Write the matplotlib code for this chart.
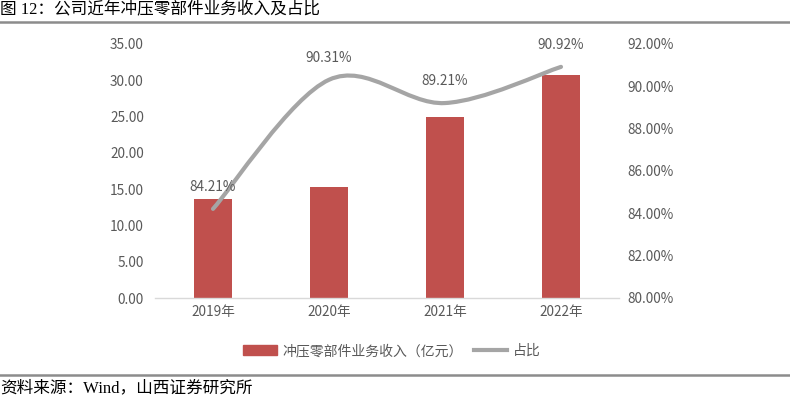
import matplotlib
matplotlib.use("Agg")
import matplotlib.pyplot as plt
from matplotlib.path import Path
from matplotlib.patches import PathPatch, Patch
from matplotlib.lines import Line2D
from matplotlib.ticker import FuncFormatter

plt.rcParams['font.family'] = ['Noto Sans CJK SC', 'DejaVu Sans']

# data
years = ["2019年", "2020年", "2021年", "2022年"]
revenue = [13.64, 15.30, 24.90, 30.77]   # 亿元
share = [84.21, 90.31, 89.21, 90.92]     # %

bar_color = "#c0504d"
line_color = "#a5a5a5"
text_color = "#595959"

W, H = 790, 397
fig = plt.figure(figsize=(W / 100, H / 100), dpi=100)

# plot area in pixels
left, right, top, bottom = 155, 619, 44, 298
ax = fig.add_axes([left / W, 1 - bottom / H, (right - left) / W, (bottom - top) / H])
ax2 = ax.twinx()

x = list(range(len(years)))
ax.bar(x, revenue, width=0.325, color=bar_color, zorder=2)
ax.set_xlim(-0.5, len(years) - 0.5)
ax.set_ylim(0, 35)
ax.set_yticks([0, 5, 10, 15, 20, 25, 30, 35])
ax.yaxis.set_major_formatter(FuncFormatter(lambda v, p: f"{v:.2f}"))
ax.set_xticks(x)
ax.set_xticklabels(years)

ax2.set_ylim(80, 92)
ax2.set_yticks([80, 82, 84, 86, 88, 90, 92])
ax2.yaxis.set_major_formatter(FuncFormatter(lambda v, p: f"{v:.2f}%"))

for a in (ax, ax2):
    for s in a.spines.values():
        s.set_visible(False)
    a.tick_params(length=0, labelsize=9.8, colors=text_color)
ax.spines['bottom'].set_visible(True)
ax.spines['bottom'].set_color("#d9d9d9")
ax.spines['bottom'].set_linewidth(1)
ax.tick_params(axis='y', pad=8)
ax.tick_params(axis='x', pad=5)
ax2.tick_params(axis='y', pad=6)

# smoothed line (Excel-style bezier through the points)
pts = list(zip(x, share))
n = len(pts)
verts = [pts[0]]
codes = [Path.MOVETO]
for i in range(n - 1):
    p0 = pts[i - 1] if i > 0 else pts[i]
    p1 = pts[i]
    p2 = pts[i + 1]
    p3 = pts[i + 2] if i + 2 < n else pts[i + 1]
    c1 = (p1[0] + (p2[0] - p0[0]) / 6, p1[1] + (p2[1] - p0[1]) / 6)
    c2 = (p2[0] - (p3[0] - p1[0]) / 6, p2[1] - (p3[1] - p1[1]) / 6)
    verts += [c1, c2, p2]
    codes += [Path.CURVE4] * 3
ax2.add_patch(PathPatch(Path(verts, codes), facecolor="none", edgecolor=line_color,
                        lw=3, capstyle="round", zorder=3))

for xi, v in zip(x, share):
    ax2.annotate(f"{v:.2f}%", (xi, v), xytext=(0, 16), textcoords="offset points",
                 ha="center", va="center", fontsize=9.8, color=text_color)

handles = [Patch(color=bar_color), Line2D([0], [0], color=line_color, lw=3)]
fig.legend(handles, ["冲压零部件业务收入（亿元）", "占比"], loc="center",
           bbox_to_anchor=(392 / W, 1 - 351 / H), ncol=2, frameon=False,
           fontsize=10, labelcolor=text_color, handlelength=2.4, handletextpad=0.4,
           columnspacing=0.8)

# title / source lines and text
fig.add_artist(Line2D([0, 1], [1 - 22 / H, 1 - 22 / H], color="#8c8c8c", lw=1.8))
fig.add_artist(Line2D([0, 1], [1 - 375 / H, 1 - 375 / H], color="#8c8c8c", lw=1.8))
fig.text(0.0, 1 - 9 / H, "图 12：公司近年冲压零部件业务收入及占比", fontsize=12,
         family=['Liberation Serif', 'Noto Sans CJK SC'], va="center", ha="left", color="black")
fig.text(0.0, 1 - 388 / H, "资料来源：Wind，山西证券研究所", fontsize=12,
         family=['Liberation Serif', 'Noto Sans CJK SC'], va="center", ha="left", color="black")

fig.savefig("out.png", dpi=100)
